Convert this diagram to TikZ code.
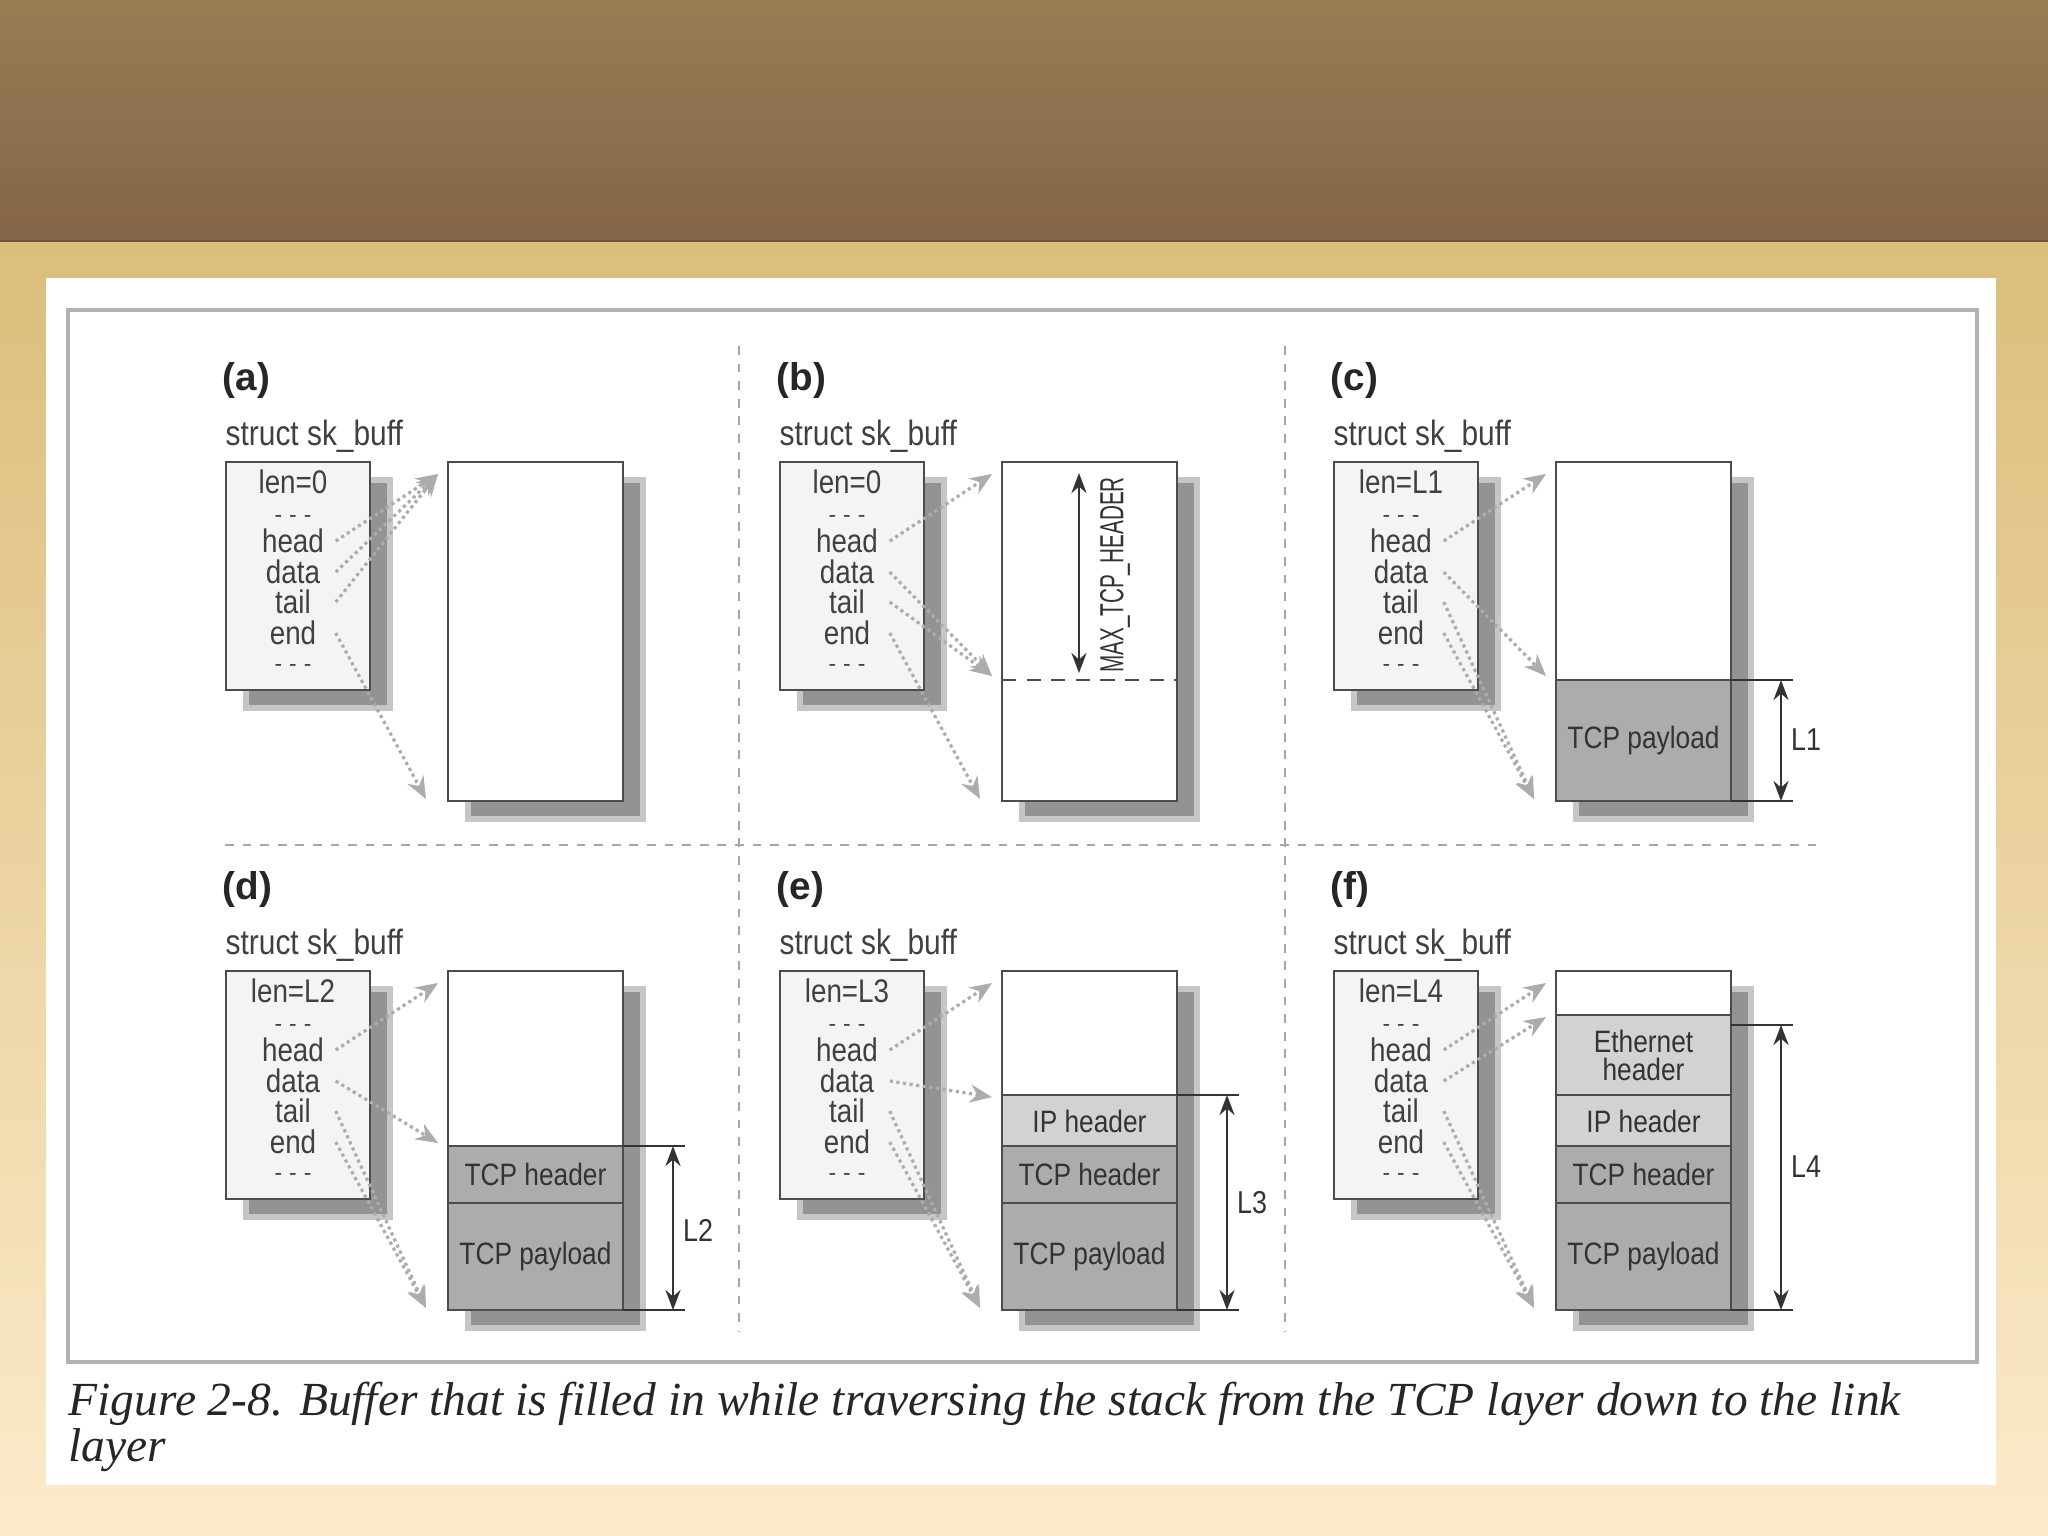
\documentclass[tikz,border=0pt]{standalone}
\usepackage{fontspec}
\setmainfont{Liberation Sans}
\newfontfamily\narrowfont{Liberation Sans}[FakeStretch=0.85]
\newfontfamily\condfont{Liberation Sans}[FakeStretch=0.62]
\newfontfamily\capfont{Liberation Serif}
\usetikzlibrary{arrows.meta,calc}

\definecolor{brownT}{RGB}{152,124,84}
\definecolor{brownB}{RGB}{131,101,71}
\definecolor{tanT}{RGB}{219,190,124}
\definecolor{tanB}{RGB}{252,234,202}

\begin{document}
\begin{tikzpicture}[
  x=0.01cm, y=-0.01cm, >=Stealth,
  lbl/.style={anchor=west, inner sep=0pt, font=\fontsize{11}{13}\selectfont\bfseries, text=black!85},
  sname/.style={anchor=west, inner sep=0pt, font=\narrowfont\fontsize{10}{12}\selectfont, text=black!75},
  field/.style={font=\narrowfont\fontsize{9.3}{10}\selectfont, text=black!75,
                minimum width=0.84cm, inner sep=0pt},
  dots/.style={font=\fontsize{6.5}{7}\selectfont, text=black!75, inner sep=0pt},
  sbox/.style={draw=black!70, fill=gray!9, line width=0.7pt,
               minimum width=1.44cm, minimum height=2.28cm},
  buf/.style={draw=black!70, fill=white, line width=0.7pt, inner sep=0pt,
              minimum width=1.75cm, minimum height=3.39cm},
  drop/.style={fill=gray!85, draw=gray!45, line width=1.5pt},
  dark/.style={draw=black!70, fill=gray!65, line width=0.7pt},
  light/.style={draw=black!70, fill=gray!35, line width=0.7pt},
  part/.style={font=\narrowfont\fontsize{8.8}{10}\selectfont, text=black!80, align=center},
  ptr/.style={-{Stealth[length=2.2mm,width=1.8mm]}, densely dotted, line width=0.9pt, gray!65},
  dim/.style={{Stealth[length=2mm,width=1.5mm]}-{Stealth[length=2mm,width=1.5mm]},
              line width=0.8pt, black!80},
  ext/.style={black!80, line width=0.6pt},
  dimlbl/.style={font=\narrowfont\fontsize{9}{10}\selectfont, text=black!80},
  sep/.style={gray!70, line width=0.8pt, dash pattern=on 2.5pt off 2.5pt},
]
  \useasboundingbox (0,0) rectangle (2048,1535);

  %% Slide background
  \shade[top color=brownT, bottom color=brownB] (0,0) rectangle (2048,242);
  \draw[brownB!85!black, line width=1pt] (0,242) -- (2048,242);
  \shade[top color=tanT, bottom color=tanB] (0,242) rectangle (2048,1535);
  \fill[white] (46,278) rectangle (1996,1485);
  \draw[gray!60, line width=1.2pt] (68,310) rectangle (1977,1362);

  %% Separators
  \draw[sep] (739,346) -- (739,1332);
  \draw[sep] (1285,346) -- (1285,1332);
  \draw[sep] (225,845) -- (1822,845);

  %% Common parts of the six panels
  \foreach \p/\dx/\dy/\len/\dt/\tx/\tt in {a/0/0/len=0/12/438/12, b/554/0/len=0/214/438/214,
      c/1108/0/len=L1/214/426/337, d/0/509/len=L2/172/426/337,
      e/554/509/len=L3/126/426/337, f/1108/509/len=L4/46/426/337}{
    \begin{scope}[shift={(\dx,\dy)}]
      \node[lbl]   (lab\p) at (222,380) {(\p)};
      \node[sname] (sn\p)  at (225,436) {struct sk\_buff};
      \draw[drop] (246,480) rectangle (390,708);
      \node[sbox]  (sk\p)  at (298,576) {};
      \draw[drop] (468,480) rectangle (643,819);
      \node[buf]   (buf\p) at (535.5,631.5) {};
      \node[field] (len\p)  at (293,482) {\len};
      \node[dots]  (dots\p) at (293,519) {-\kern2pt-\kern2pt-};
      \node[field] (head\p) at (293,541) {head};
      \node[field] (data\p) at (293,572) {data};
      \node[field] (tail\p) at (293,602) {tail};
      \node[field] (end\p)  at (293,633) {end};
      \node[dots]  (more\p) at (293,668) {-\kern2pt-\kern2pt-};
      \coordinate (ht\p) at (438,474);
      \coordinate (dt\p) at (438,462+\dt);
      \coordinate (tt\p) at (\tx,462+\tt);
      \coordinate (et\p) at (426,799);
      \draw[ptr] (head\p.east) -- (ht\p);
      \draw[ptr] (data\p.east) -- (dt\p);
      \draw[ptr] (tail\p.east) -- (tt\p);
      \draw[ptr] (end\p.east)  -- (et\p);
    \end{scope}
  }

  %% (b) room reserved for headers
  \begin{scope}[shift={(554,0)}]
    \draw[black!70, line width=0.7pt, dash pattern=on 4pt off 3pt] (448,680) -- (623,680);
    \coordinate (mtop) at (525,473);
    \coordinate (mbot) at (525,673);
    \draw[dim] (mtop) -- (mbot);
    \node[rotate=90, font=\condfont\fontsize{9.5}{10}\selectfont, text=black!80] (mth) at (561,575) {MAX\_TCP\_HEADER};
  \end{scope}

  %% (c) payload
  \begin{scope}[shift={(1108,0)}]
    \draw[dark] (448,680) rectangle (623,801);
    \node[part] (payc) at (535.5,740) {TCP payload};
    \draw[ext] (623,680) -- (685,680);
    \draw[ext] (623,801) -- (685,801);
    \coordinate (c1) at (673,680);
    \coordinate (c2) at (673,801);
    \draw[dim] (c1) -- (c2);
    \node[dimlbl] (lc) at (698,740) {L1};
  \end{scope}

  %% (d) TCP header added
  \begin{scope}[shift={(0,509)}]
    \draw[dark] (448,637) rectangle (623,694);
    \draw[dark] (448,694) rectangle (623,801);
    \node[part] (hdrd) at (535.5,665) {TCP header};
    \node[part] (payd) at (535.5,747) {TCP payload};
    \draw[ext] (623,637) -- (685,637);
    \draw[ext] (623,801) -- (685,801);
    \coordinate (d1) at (673,637);
    \coordinate (d2) at (673,801);
    \draw[dim] (d1) -- (d2);
    \node[dimlbl] (ld) at (698,721) {L2};
  \end{scope}

  %% (e) IP header added
  \begin{scope}[shift={(554,509)}]
    \draw[light] (448,586) rectangle (623,637);
    \draw[dark] (448,637) rectangle (623,694);
    \draw[dark] (448,694) rectangle (623,801);
    \node[part] (ipe)  at (535.5,612) {IP header};
    \node[part] (hdre) at (535.5,665) {TCP header};
    \node[part] (paye) at (535.5,747) {TCP payload};
    \draw[ext] (623,586) -- (685,586);
    \draw[ext] (623,801) -- (685,801);
    \coordinate (e1) at (673,586);
    \coordinate (e2) at (673,801);
    \draw[dim] (e1) -- (e2);
    \node[dimlbl] (le) at (698,694) {L3};
  \end{scope}

  %% (f) Ethernet header added
  \begin{scope}[shift={(1108,509)}]
    \draw[light] (448,506) rectangle (623,586);
    \draw[light] (448,586) rectangle (623,637);
    \draw[dark] (448,637) rectangle (623,694);
    \draw[dark] (448,694) rectangle (623,801);
    \node[part] (ethf) at (535.5,546) {Ethernet\\[-2pt]header};
    \node[part] (ipf)  at (535.5,612) {IP header};
    \node[part] (hdrf) at (535.5,665) {TCP header};
    \node[part] (payf) at (535.5,747) {TCP payload};
    \draw[ext] (623,516) -- (685,516);
    \draw[ext] (623,801) -- (685,801);
    \coordinate (f1) at (673,516);
    \coordinate (f2) at (673,801);
    \draw[dim] (f1) -- (f2);
    \node[dimlbl] (lf) at (698,658) {L4};
  \end{scope}

  %% Caption
  \node[anchor=west, inner sep=0pt, align=left, text=black!85,
        font=\capfont\itshape\fontsize{13.5}{12}\selectfont] (cap) at (68,1427)
    {Figure 2-8. Buffer that is filled in while traversing the stack from the TCP layer down to the link\\layer};
\end{tikzpicture}
\end{document}
